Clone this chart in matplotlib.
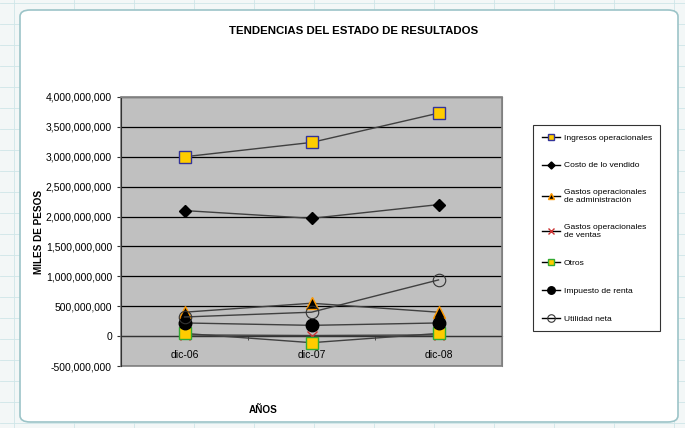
import matplotlib
matplotlib.use('Agg')
import matplotlib.pyplot as plt
from matplotlib.patches import FancyBboxPatch, Rectangle
from matplotlib.ticker import FuncFormatter, FixedLocator
import numpy as np

plt.rcParams['font.family'] = ['Liberation Sans', 'DejaVu Sans']

anios = ['dic-06', 'dic-07', 'dic-08']
ingresos = [3.00e9, 3.24e9, 3.73e9]
costo = [2.10e9, 1.97e9, 2.20e9]
gastos_admin = [0.40e9, 0.55e9, 0.40e9]
gastos_ventas = [0.02e9, 0.01e9, 0.02e9]
otros = [0.045e9, -0.11e9, 0.045e9]
impuesto = [0.22e9, 0.18e9, 0.22e9]
utilidad = [0.32e9, 0.40e9, 0.94e9]

series = [
    ('Ingresos operacionales', ingresos,
     dict(marker='s', ms=8, mfc='#ffcc00', mec='#333399', mew=1)),
    ('Costo de lo vendido', costo,
     dict(marker='D', ms=6, mfc='black', mec='black')),
    ('Gastos operacionales\nde administración', gastos_admin,
     dict(marker='^', ms=8, mfc='black', mec='#ff9900', mew=1)),
    ('Gastos operacionales\nde ventas', gastos_ventas,
     dict(marker='x', ms=7, mec='#cc3333', mew=1)),
    ('Otros', otros,
     dict(marker='s', ms=8, mfc='#ffcc00', mec='#33aa33', mew=1)),
    ('Impuesto de renta', impuesto,
     dict(marker='o', ms=9, mfc='black', mec='black')),
    ('Utilidad neta', utilidad,
     dict(marker='o', ms=9, mfc='none', mec='#333333', mew=0.8)),
]

fig = plt.figure(figsize=(6.85, 4.28), dpi=100)
fig.patch.set_facecolor('#f3f7f7')

# worksheet cells behind the chart
for gx in np.arange(14, 685, 60):
    fig.add_artist(plt.Line2D([gx / 685, gx / 685], [0, 1], color='#cfe6e8',
                              lw=0.6, zorder=-3))
for gy in np.arange(5, 428, 21):
    fig.add_artist(plt.Line2D([0, 1], [gy / 428, gy / 428], color='#cfe6e8',
                              lw=0.6, zorder=-3))

frame = FancyBboxPatch((20 / 685, 6 / 428), 658 / 685, 412 / 428,
                       boxstyle='round,pad=0,rounding_size=0.015',
                       transform=fig.transFigure, facecolor='white',
                       edgecolor='#9cc4c8', lw=1.2, zorder=-2)
fig.add_artist(frame)

ax = fig.add_axes([121 / 685, 1 - 366 / 428, 381 / 685, 269 / 428])
ax.set_facecolor('#c0c0c0')

x = np.arange(len(anios))
for name, vals, style in series:
    ax.plot(x, vals, color='#404040', lw=1, label=name, zorder=3, **style)

ax.set_xlim(-0.5, len(anios) - 0.5)
ax.set_ylim(-5e8, 4e9)
ax.set_yticks(np.arange(-5e8, 4.01e9, 5e8))
ax.yaxis.set_major_formatter(FuncFormatter(lambda v, p: '{:,.0f}'.format(v)))
ax.yaxis.grid(True, color='black', lw=0.9)
ax.set_axisbelow(True)

ax.spines['bottom'].set_position(('data', 0))
ax.spines['bottom'].set_color('#333333')
ax.spines['bottom'].set_zorder(2)
ax.spines['left'].set_color('#333333')
ax.spines['top'].set_color('#808080')
ax.spines['right'].set_color('#808080')
ax.add_patch(Rectangle((0, 0), 1, 1, transform=ax.transAxes, fill=False,
                       edgecolor='#808080', lw=1.2, clip_on=False))

ax.xaxis.set_major_locator(FixedLocator(x))
ax.set_xticklabels(anios)
ax.xaxis.set_minor_locator(FixedLocator(np.arange(-0.5, len(anios), 1.0)))
ax.tick_params(axis='x', which='major', length=0, pad=10, labelsize=7.5)
ax.tick_params(axis='x', which='minor', length=3, direction='out', color='#333333')
ax.tick_params(axis='y', length=3, labelsize=7.5, color='#333333')

ax.set_ylabel('MILES DE PESOS', fontsize=7.2, fontweight='bold', labelpad=1)
fig.text(263 / 685, 1 - 410 / 428, 'AÑOS', fontsize=7.2, fontweight='bold',
         ha='center', va='center')
fig.text(354 / 685, 1 - 31 / 428, 'TENDENCIAS DEL ESTADO DE RESULTADOS',
         fontsize=8.2, fontweight='bold', ha='center', va='center')

leg = fig.legend(loc='upper left', bbox_to_anchor=(529 / 685, 1 - 121 / 428),
                 fontsize=6.1, frameon=True, fancybox=False, edgecolor='black',
                 markerscale=0.6, handlelength=2.2, labelspacing=2.35,
                 borderpad=1.0, handletextpad=0.4)
leg.get_frame().set_linewidth(0.8)
for line in leg.get_lines():
    line.set_color('black')

fig.savefig('out.png', dpi=100, facecolor=fig.get_facecolor())
